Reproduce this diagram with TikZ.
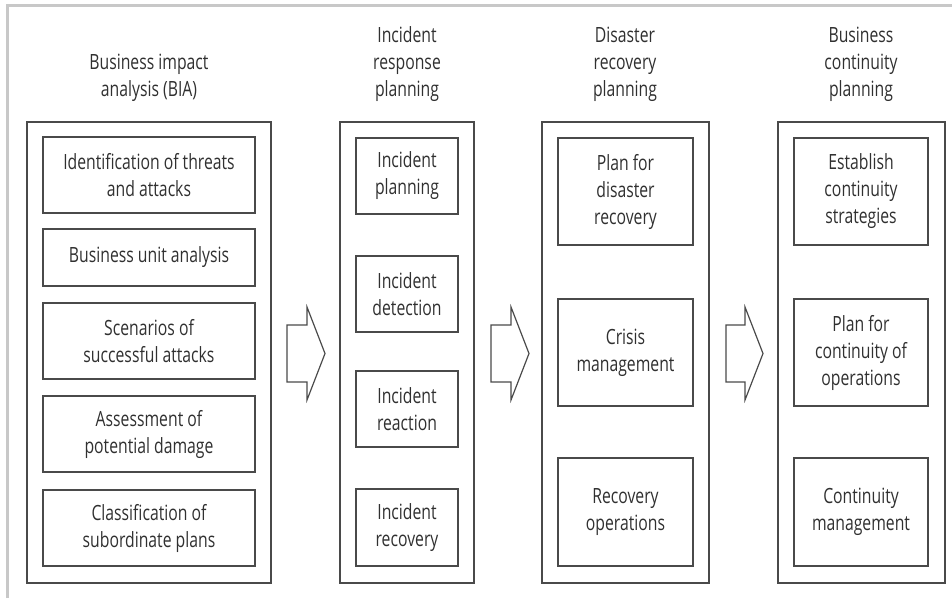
\documentclass[tikz,border=0pt]{standalone}
\usepackage{fontspec}
\setmainfont[FakeStretch=0.75]{Open Sans}
\definecolor{frame}{HTML}{C8C8C8}
\definecolor{ln}{HTML}{4A4A4A}
\definecolor{tx}{HTML}{303030}
\tikzset{
  outerbox/.style={draw=ln, line width=1.5pt, inner sep=0pt},
  innerbox/.style={draw=ln, line width=1.5pt, inner sep=0pt, align=center, text=tx,
    font=\fontsize{21}{27}\selectfont},
  title/.style={align=center, text=tx, inner sep=0pt, font=\fontsize{21}{27}\selectfont},
  blockarrow/.style={draw=ln, line width=1.2pt, line join=miter},
}
\begin{document}
\begin{tikzpicture}[x=1pt,y=-1pt]
\useasboundingbox (0,0) rectangle (952,598);
% frame
\draw[frame, line width=3pt] (7,598) -- (7,5) -- (952,5);

% titles
\node[title] (t1) at (149,78) {Business impact\\analysis (BIA)};
\node[title] (t2) at (407,64) {Incident\\response\\planning};
\node[title] (t3) at (625,64) {Disaster\\recovery\\planning};
\node[title] (t4) at (861,64) {Business\\continuity\\planning};

% outer boxes
\node[outerbox, minimum width=244pt, minimum height=461pt] (o1) at (149,352.5) {};
\node[outerbox, minimum width=134pt, minimum height=461pt] (o2) at (407,352.5) {};
\node[outerbox, minimum width=167pt, minimum height=461pt] (o3) at (625.5,352.5) {};
\node[outerbox, minimum width=167pt, minimum height=461pt] (o4) at (861.5,352.5) {};

% column 1
\node[innerbox, minimum width=212pt, minimum height=76pt] (b11) at (149,175) {Identification of threats\\and attacks};
\node[innerbox, minimum width=212pt, minimum height=57pt] (b12) at (149,257.5) {Business unit analysis};
\node[innerbox, minimum width=212pt, minimum height=76pt] (b13) at (149,341) {Scenarios of\\successful attacks};
\node[innerbox, minimum width=212pt, minimum height=76pt] (b14) at (149,434) {Assessment of\\potential damage};
\node[innerbox, minimum width=212pt, minimum height=76pt] (b15) at (149,528) {Classification of\\subordinate plans};

% column 2
\node[innerbox, minimum width=102pt, minimum height=76pt] (b21) at (407,176) {Incident\\planning};
\node[innerbox, minimum width=102pt, minimum height=76pt] (b22) at (407,294) {Incident\\detection};
\node[innerbox, minimum width=102pt, minimum height=76pt] (b23) at (407,409) {Incident\\reaction};
\node[innerbox, minimum width=102pt, minimum height=77pt] (b24) at (407,527.5) {Incident\\recovery};

% column 3
\node[innerbox, minimum width=135pt, minimum height=107pt] (b31) at (625.5,191.5) {Plan for\\disaster\\recovery};
\node[innerbox, minimum width=135pt, minimum height=107pt] (b32) at (625.5,352.5) {Crisis\\management};
\node[innerbox, minimum width=135pt, minimum height=108pt] (b33) at (625.5,512) {Recovery\\operations};

% column 4
\node[innerbox, minimum width=134pt, minimum height=107pt] (b41) at (861,191.5) {Establish\\continuity\\strategies};
\node[innerbox, minimum width=134pt, minimum height=107pt] (b42) at (861,352.5) {Plan for\\continuity of\\operations};
\node[innerbox, minimum width=134pt, minimum height=108pt] (b43) at (861,512) {Continuity\\management};

% block arrows
\draw[blockarrow] (287,325) -- (307,325) -- (307,307) -- (325,353.5) -- (307,400) -- (307,382) -- (287,382) -- cycle;
\draw[blockarrow] (491,325) -- (511,325) -- (511,307) -- (529,353.5) -- (511,400) -- (511,382) -- (491,382) -- cycle;
\draw[blockarrow] (726,325) -- (745,325) -- (745,307) -- (763,353.5) -- (745,400) -- (745,382) -- (726,382) -- cycle;
\end{tikzpicture}
\end{document}
